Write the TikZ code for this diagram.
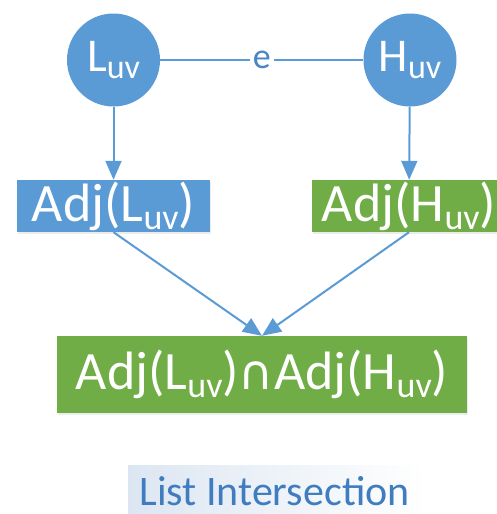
\documentclass[tikz,border=0pt]{standalone}
\usepackage{fontspec}
\setmainfont{Carlito}
\newfontfamily\symfont{DejaVu Sans}
\usetikzlibrary{arrows.meta,shadows}

\definecolor{offblue}{HTML}{5B9BD5}
\definecolor{offgreen}{HTML}{70AD47}
\definecolor{edgeblue}{HTML}{4A86C5}
\definecolor{capblue}{HTML}{3F7DC0}
\definecolor{capshade}{HTML}{DCE6F2}

% lowered, smaller "uv" index; #1 is its font size
\newcommand{\subuv}[1]{\raisebox{-0.15em}{\fontsize{#1}{#1}\selectfont uv}}
% intersection sign
\newcommand{\capsign}{{\symfont\fontsize{48}{48}\selectfont ∩}}

\tikzset{
  whitetext/.style={text=white},
  vertex/.style={circle, fill=offblue, minimum size=93pt, inner sep=0pt, whitetext,
    font=\fontsize{47}{47}\selectfont},
  listbox/.style={rectangle, minimum height=52pt, inner sep=0pt, whitetext,
    font=\fontsize{54}{54}\selectfont,
    drop shadow={opacity=0.15, shadow xshift=1pt, shadow yshift=-1.5pt}},
  link/.style={draw=offblue, line width=2pt},
  flow/.style={link, -{Triangle[length=19pt,width=16pt]}},
}

\begin{document}
\begin{tikzpicture}[x=1pt,y=1pt]
  \useasboundingbox (0,0) rectangle (497,-514);
  \clip (0,0) rectangle (497,-514);

  % vertices of the edge e
  \node[vertex] (L) at (113.5,-60) {L\subuv{34}};
  \node[vertex] (H) at (410,-60) {H\subuv{34}};
  \draw[link] (L) -- node[fill=white, inner sep=3pt, text=edgeblue,
    font=\fontsize{36}{36}\selectfont] (e) {e} (H);

  % adjacency lists
  \node[listbox, fill=offblue, minimum width=193pt] (AL) at (113.5,-206) {Adj(L\subuv{36})};
  \node[listbox, fill=offgreen, minimum width=194pt] (AH) at (409,-206) {Adj(H\subuv{36})};

  % their intersection
  \node[listbox, fill=offgreen, minimum width=410pt, minimum height=77pt] (I) at (262,-374.5)
    {Adj(L\subuv{36})\capsign Adj(H\subuv{36})};

  \draw[flow] (L) -- (AL);
  \draw[flow] (H) -- (AH);
  \draw[flow] (AL.south) -- (I.north);
  \draw[flow] (AH.south) -- (I.north);

  % caption
  \shade[left color=capshade, right color=white] (128,-465) rectangle (427,-514);
  \node[text=capblue, font=\fontsize{42}{42}\selectfont, anchor=base, inner sep=0pt] (cap)
    at (274.5,-505) {List Intersection};
\end{tikzpicture}
\end{document}
